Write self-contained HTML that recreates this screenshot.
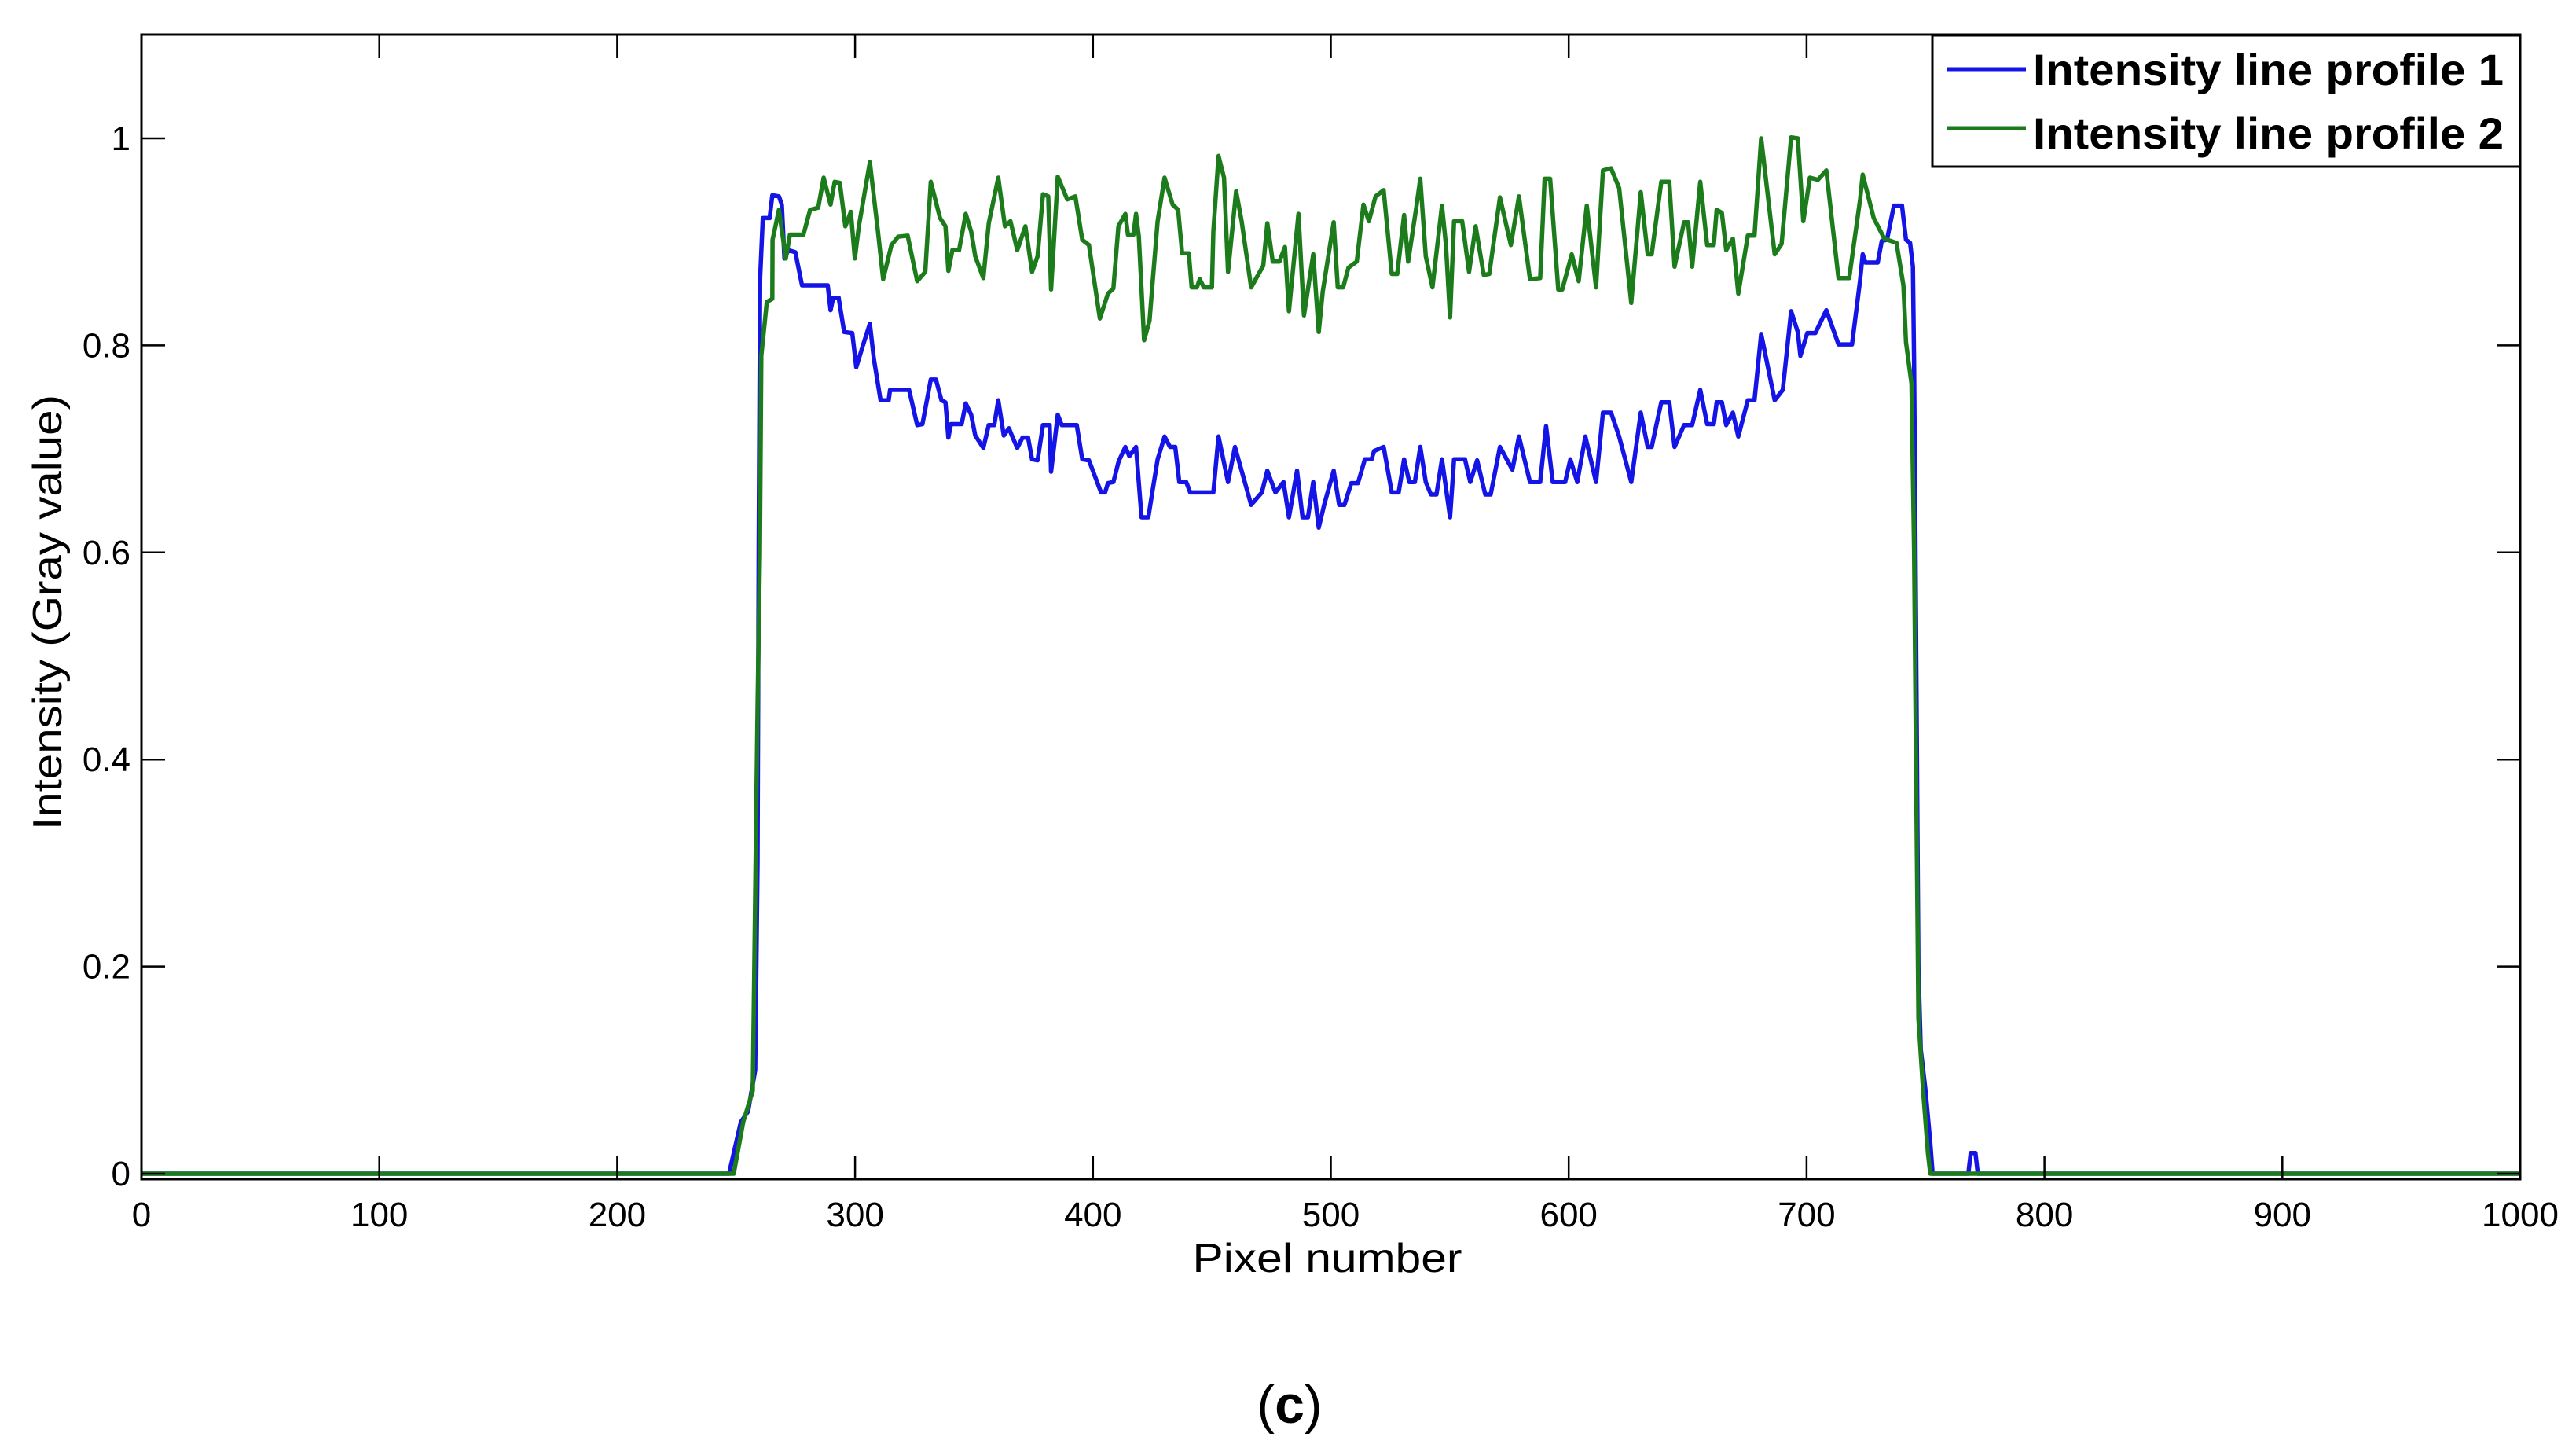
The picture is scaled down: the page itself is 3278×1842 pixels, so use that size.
<!DOCTYPE html>
<html><head><meta charset="utf-8">
<style>
html,body{margin:0;padding:0;background:#fff;}
svg{display:block;}
text{font-family:"Liberation Sans",sans-serif;}
</style></head>
<body>
<svg id="chart" width="3278" height="1842" viewBox="0 0 3278 1842" xmlns="http://www.w3.org/2000/svg">
<rect x="0" y="0" width="3278" height="1842" fill="#fff"/>
<g id="marks"></g>
<g id="axes"></g>
</svg>
<script>
const xTicks=[0,100,200,300,400,500,600,700,800,900,1000];
const yTicks=[0,0.2,0.4,0.6,0.8,1];
const yTickLabels=["0","0.2","0.4","0.6","0.8","1"];
const blueX=[0,247,248,252,255,258,259,259.5,260.1,261.2,264.1,265.2,268,269.2,270.3,272,274.9,277.7,288.5,289.7,290.8,293.1,295.4,298.8,300.5,303.3,306.2,307.9,310.7,314.1,314.7,322.7,326.1,328.3,331.8,334,336.3,338,339.2,340.3,344.8,346.5,348.8,350.5,353.9,356.2,358.5,360.2,362.5,364.7,365.9,368.2,370.4,372.7,374.4,376.7,379,381.8,382.4,385.2,386.9,393.2,395.5,398.3,403.4,405.1,406.3,408.6,410.8,413.6,415.3,418.1,420.4,423.3,425,427.2,430.1,432.4,434.6,436.3,439.2,440.9,450.6,452.8,456.8,459.7,466.5,471,473.3,476.7,480.1,482.4,485.8,488.1,490.4,492.6,494.9,497.2,501.2,503.5,505.7,508.6,511.4,514.3,517.1,518.2,522.2,525.6,528.5,530.8,533,535.3,537.6,539.9,542.1,544.4,546.7,550.1,551.8,556.4,558.6,561.5,564.9,567.2,571.1,576.3,579.1,583.7,588,590.5,593.3,598.5,600.7,603.6,607,611.5,614.4,617.8,621.2,626.3,630.3,633.2,634.9,638.9,642.3,644.5,648.5,651.9,655.3,658.2,661,662.2,664.4,666.2,669,671.3,675.3,678.1,680.9,686.6,690,693.5,696.3,697.4,700.3,703.7,708.3,713.4,719.1,722.5,723.6,724.7,729.9,731.6,733.8,736.7,740.1,741.8,743.5,744.7,745.2,745.8,747,748,750,752,753,768,769,771,772,1000];
const blueY=[0,0,0.01,0.05,0.06,0.1,0.3,0.612,0.865,0.923,0.923,0.945,0.944,0.936,0.884,0.892,0.89,0.858,0.858,0.834,0.846,0.846,0.813,0.812,0.779,0.8,0.821,0.787,0.747,0.747,0.757,0.757,0.723,0.724,0.767,0.767,0.747,0.745,0.711,0.724,0.724,0.744,0.733,0.713,0.701,0.723,0.723,0.747,0.713,0.72,0.713,0.701,0.711,0.711,0.69,0.689,0.723,0.723,0.678,0.733,0.723,0.723,0.69,0.689,0.658,0.658,0.667,0.668,0.688,0.702,0.693,0.702,0.634,0.634,0.659,0.69,0.712,0.702,0.702,0.668,0.668,0.658,0.658,0.712,0.668,0.702,0.646,0.658,0.679,0.658,0.668,0.634,0.679,0.634,0.634,0.668,0.624,0.646,0.679,0.646,0.646,0.667,0.667,0.69,0.69,0.698,0.702,0.658,0.658,0.69,0.668,0.668,0.702,0.668,0.656,0.656,0.69,0.634,0.69,0.69,0.668,0.689,0.656,0.656,0.702,0.68,0.712,0.668,0.668,0.722,0.668,0.668,0.69,0.668,0.712,0.668,0.735,0.735,0.712,0.668,0.735,0.702,0.702,0.745,0.745,0.702,0.723,0.723,0.757,0.724,0.724,0.745,0.745,0.723,0.735,0.712,0.747,0.747,0.811,0.747,0.757,0.833,0.813,0.79,0.812,0.812,0.834,0.801,0.801,0.863,0.888,0.88,0.88,0.901,0.902,0.935,0.935,0.902,0.899,0.876,0.782,0.601,0.2,0.12,0.08,0.03,0,0,0.02,0.02,0,0];
const greenX=[0,249,253,257,259,260,260.6,262.9,265.2,265.3,268,270.9,272.6,278.3,281.1,284.5,286.8,289.7,291.4,293.6,295.9,298.2,299.9,301.6,306.2,309.6,311.8,315.3,318.1,322.1,326.1,329.5,331.8,335.7,338,339.2,340.9,343.7,346.5,348.8,350.5,353.9,356.2,360.2,363,365.3,368.2,371.6,374.4,376.7,379,381.2,382.4,385.2,389.2,392.6,395.5,398.3,402.9,406.3,408.6,410.7,413.6,414.7,417,418.1,419.3,421.5,423.8,425.5,427.2,430.1,433.5,435.8,437.5,440.3,441.5,443.7,444.9,446.6,450,450.6,452.8,455.1,456.8,460.2,462.5,466.5,471.6,473.3,475.6,478.4,480.7,482.4,486.4,488.7,492.6,494.9,496.6,501.2,502.9,505.2,507.4,510.9,513.7,516,518.8,522.2,525.6,527.9,530.8,532.5,535.9,537.6,539.9,542.7,546.7,548.4,550.1,551.8,555.2,558.1,560.9,564.3,566.6,571.1,575.7,579.1,583.7,588,589.9,592.2,595.6,597.3,601.3,604.2,607.6,611.5,614.4,617.8,621.2,626.3,630.3,633.2,634.9,638.9,642.3,644.5,648.5,650.2,651.9,655.3,658.2,661,662.2,664.4,666.2,669,671.3,675.3,678.1,680.9,686.6,689.5,693.5,696.3,698.6,701.4,704.8,708.3,713.4,717.9,722.5,723.6,728.2,732.7,737.8,740.7,741.8,744.1,745.2,746,747,749,751,752,1000];
const greenY=[0,0,0.05,0.08,0.45,0.6,0.79,0.842,0.845,0.902,0.931,0.884,0.907,0.907,0.931,0.933,0.962,0.936,0.958,0.957,0.915,0.929,0.884,0.915,0.977,0.91,0.864,0.897,0.905,0.906,0.862,0.871,0.958,0.923,0.915,0.872,0.892,0.892,0.927,0.91,0.886,0.865,0.918,0.962,0.915,0.92,0.892,0.915,0.871,0.886,0.946,0.944,0.854,0.963,0.941,0.944,0.902,0.897,0.826,0.85,0.855,0.915,0.927,0.907,0.907,0.927,0.905,0.805,0.824,0.873,0.92,0.962,0.936,0.931,0.889,0.889,0.856,0.856,0.864,0.856,0.856,0.91,0.983,0.962,0.871,0.949,0.92,0.856,0.877,0.918,0.881,0.881,0.895,0.833,0.927,0.829,0.888,0.813,0.852,0.919,0.856,0.856,0.875,0.881,0.936,0.92,0.944,0.95,0.869,0.869,0.926,0.881,0.933,0.961,0.886,0.856,0.935,0.897,0.827,0.92,0.92,0.871,0.915,0.868,0.869,0.943,0.897,0.944,0.864,0.865,0.961,0.961,0.854,0.854,0.888,0.862,0.935,0.856,0.969,0.971,0.952,0.841,0.948,0.888,0.888,0.958,0.958,0.876,0.919,0.919,0.876,0.958,0.897,0.897,0.931,0.928,0.892,0.903,0.85,0.906,0.906,1.0,0.888,0.898,1.001,1.0,0.92,0.962,0.96,0.969,0.865,0.865,0.941,0.965,0.923,0.903,0.899,0.858,0.803,0.763,0.601,0.4,0.15,0.08,0.02,0,0];

const NS="http://www.w3.org/2000/svg";
const L=180,R=3207,T=44,B=1500;
const xS=v=>L+(R-L)*v/1000;
const yS=v=>1493-v*1317;
function mk(tag,attrs,parent){const e=document.createElementNS(NS,tag);for(const k in attrs)e.setAttribute(k,attrs[k]);parent.appendChild(e);return e;}
const marks=document.getElementById('marks'),axes=document.getElementById('axes');

function series(xs,ys,color,name){
  const pts=xs.map((x,i)=>xS(x).toFixed(1)+','+yS(ys[i]).toFixed(1)).join(' ');
  const p=mk('polyline',{points:pts,fill:'none',stroke:color,'stroke-width':5.5,'stroke-linejoin':'round'},marks);
  
  
}
series(blueX,blueY,'#1414e6','series-profile-1');
series(greenX,greenY,'#1c7c1c','series-profile-2');

const frame=mk('rect',{x:L,y:T,width:R-L,height:B-T,fill:'none',stroke:'#000','stroke-width':3},axes);



xTicks.forEach(v=>{
  const x=xS(v);
  const t1=mk('line',{x1:x,y1:B,x2:x,y2:B-30,stroke:'#000','stroke-width':2.5},axes);
  
  
  const t2=mk('line',{x1:x,y1:T,x2:x,y2:T+30,stroke:'#000','stroke-width':2.5},axes);
  
  
  const lb=mk('text',{x:x,y:1560,'font-size':44,'text-anchor':'middle',fill:'#000'},axes);
  lb.textContent=String(v);
  
  
});
yTicks.forEach((v,i)=>{
  const y=yS(v);
  const t1=mk('line',{x1:L,y1:y,x2:L+30,y2:y,stroke:'#000','stroke-width':2.5},axes);
  
  
  const t2=mk('line',{x1:R,y1:y,x2:R-30,y2:y,stroke:'#000','stroke-width':2.5},axes);
  
  
  const lb=mk('text',{x:166,y:y+15,'font-size':44,'text-anchor':'end',fill:'#000'},axes);
  lb.textContent=yTickLabels[i];
  
  
});
</script>
<svg style="position:absolute;left:0;top:0" width="3278" height="1842" viewBox="0 0 3278 1842">
<text x="1689" y="1618" font-size="52" text-anchor="middle" textLength="343" lengthAdjust="spacingAndGlyphs" font-family="Liberation Sans, sans-serif">Pixel number</text>
<text transform="translate(78,779) rotate(-90)" x="0" y="0" font-size="52" text-anchor="middle" textLength="554" lengthAdjust="spacingAndGlyphs" font-family="Liberation Sans, sans-serif">Intensity (Gray value)</text>
<g>
<rect x="2459" y="45" width="748" height="167" fill="#fff" stroke="#000" stroke-width="3"/>
<line x1="2478" y1="88" x2="2578" y2="88" stroke="#1414e6" stroke-width="5"/>
<text x="2587" y="108" font-size="56" font-weight="bold" textLength="599" lengthAdjust="spacingAndGlyphs" font-family="Liberation Sans, sans-serif">Intensity line profile 1</text>
<line x1="2478" y1="163" x2="2578" y2="163" stroke="#1c7c1c" stroke-width="5"/>
<text x="2587" y="189" font-size="56" font-weight="bold" textLength="599" lengthAdjust="spacingAndGlyphs" font-family="Liberation Sans, sans-serif">Intensity line profile 2</text>
</g>
<text x="1641" y="1810" font-size="68" text-anchor="middle" font-family="Liberation Serif, serif">(<tspan font-weight="bold">c</tspan>)</text>
</svg>
</body></html>
